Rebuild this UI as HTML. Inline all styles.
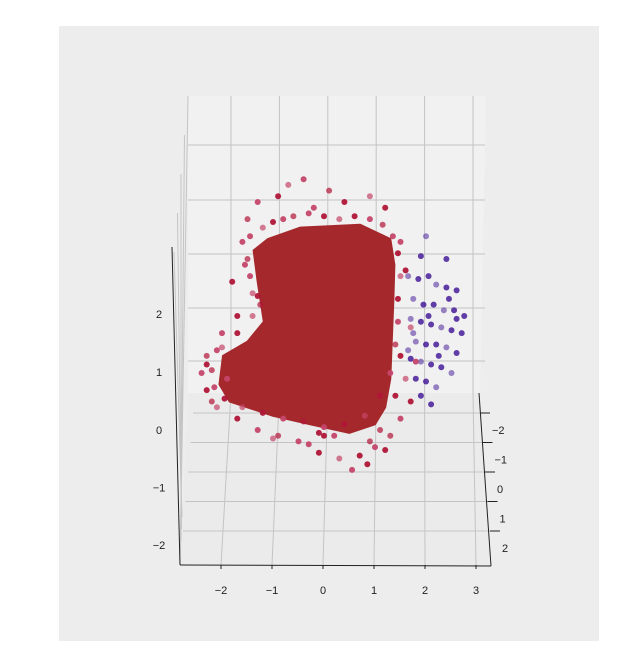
<!DOCTYPE html>
<html><head><meta charset="utf-8"><style>
body{margin:0;background:#fff;}
svg{display:block;font-family:"Liberation Sans",sans-serif;}
</style></head><body>
<svg id="chart" width="623" height="661" viewBox="0 0 623 661">
<rect x="0" y="0" width="623" height="661" fill="#fff"/>
<rect x="59" y="26" width="540" height="615" fill="#ededed"/>
<polygon points="188,96 486,96 480,393 188,393" fill="#f1f1f1"/>
<polygon points="188,393 480,393 491,566 180,565" fill="#ebebeb"/>
<g id="grid" stroke="#c4c4c4" stroke-width="1" fill="none"></g>
<g id="marks"></g>
<g id="axes" stroke="#222" stroke-width="1" fill="none">
<line x1="172" y1="247" x2="180" y2="565"/>
<line x1="180" y1="565" x2="491" y2="566"/>
<line x1="479" y1="393" x2="491" y2="566"/>
</g>
<g id="labels" font-size="11" fill="#222"></g>
</svg>
<script>
const xTicks=[-2,-1,0,1,2,3];
const zTicks=[2,1,0,-1,-2];
const yTicks=[-2,-1,0,1,2];
const coreOutlineX=[-1.1,-0.47,0.71,1.3,1.38,1.36,1.3,1.2,1.0,0.5,-0.27,-1.0,-1.85,-2.05,-1.98,-1.5,-1.18,-1.3,-1.38];
const coreOutlineZ=[3.35,3.55,3.6,3.35,2.9,2.28,0.9,0.4,0.1,-0.05,0.1,0.25,0.5,0.8,1.3,1.55,1.9,2.6,3.15];
const redX=[-0.7,-0.9,-1.3,-1.5,-1.6,-1.8,-1.4,-1.7,-2.0,-2.3,-2.4,-2.3,-2.1,-1.7,-1.3,-0.9,-0.5,-0.1,0.3,0.7,1.0,1.3,1.5,1.7,1.6,0.0,-0.3,0.9,1.5,1.2,0.9,0.4,-0.2,0.1,-0.4,1.6,1.7,1.5,-1.9,-2.2,0.55,0.85,-1.0,1.2,-1.55,-1.25,1.8,1.4,
-1.2,-1.0,-0.8,-0.6,-0.3,0.0,0.3,0.6,0.9,1.15,1.35,1.45,1.5,1.45,1.45,1.4,1.3,1.1,0.8,0.4,0.0,-0.4,-0.8,-1.2,-1.6,-1.95,-2.15,-2.2,-2.1,-1.7,-1.4,-1.3,-1.45,-1.5,-1.45,-2.3,-2.0,-0.1,0.2,1.1];
const redZ=[4.3,4.1,4.0,3.7,3.3,2.6,2.4,2.0,1.7,1.3,1.0,0.7,0.4,0.2,0.0,-0.1,-0.2,-0.4,-0.5,-0.45,-0.3,-0.1,0.2,0.5,0.9,-0.1,-0.25,-0.2,3.3,3.9,4.1,4.0,3.9,4.2,4.4,2.8,1.8,1.3,0.9,0.5,-0.7,-0.6,-0.15,-0.35,2.9,2.2,1.2,0.6,
3.55,3.65,3.7,3.75,3.8,3.75,3.7,3.75,3.7,3.6,3.4,3.1,2.7,2.3,1.9,1.5,1.0,0.6,0.25,0.1,0.05,0.15,0.2,0.3,0.4,0.55,0.75,1.05,1.4,1.7,2.0,2.35,2.7,3.0,3.4,1.15,1.45,-0.05,-0.1,0.0];
const blueX=[2.0,1.9,2.4,1.65,1.85,2.05,2.2,2.4,2.6,1.75,1.95,2.15,2.35,2.55,2.75,1.7,1.9,2.1,2.3,2.5,2.7,1.8,2.0,2.2,2.4,2.6,1.7,1.9,2.1,2.3,2.5,1.8,2.0,2.2,1.9,2.1,1.75,2.45,2.05,1.65,2.25,2.6];
const blueZ=[3.4,3.05,3.0,2.7,2.65,2.7,2.55,2.5,2.45,2.3,2.2,2.2,2.1,2.1,2.0,1.95,1.9,1.85,1.8,1.75,1.7,1.55,1.5,1.5,1.45,1.35,1.25,1.2,1.15,1.1,1.0,0.9,0.85,0.75,0.6,0.45,1.7,2.3,2.0,1.4,1.3,1.95];
const NS='http://www.w3.org/2000/svg';
function sx(x){return 324+51*x;}
function sz(z){return 430-57*z;}
function mk(tag,parent,attrs){const e=document.createElementNS(NS,tag);for(const k in attrs)e.setAttribute(k,attrs[k]);parent.appendChild(e);return e;}
const grid=document.getElementById('grid'),marks=document.getElementById('marks'),labels=document.getElementById('labels'),axes=document.getElementById('axes');
[145,200,254,308,361].forEach(y=>{const l=mk('line',grid,{x1:188,y1:y,x2:485,y2:y});

});
xTicks.forEach(t=>{const top=231+48.4*(t+2);const bot=sx(t);
const l=mk('line',grid,{x1:top,y1:96,x2:top,y2:393});


const f=mk('line',grid,{x1:top,y1:393,x2:bot-1,y2:565});


const tk=mk('line',axes,{x1:bot-1,y1:565,x2:bot-1,y2:569});


const tx=mk('text',labels,{x:bot-1,y:594,'text-anchor':'middle'});tx.textContent=(t<0?'\u2212':'')+Math.abs(t);

});
yTicks.forEach((t,i)=>{const y=413+29.5*i;const xl=193-2.5*i,xr=481+2.5*i;
const l=mk('line',grid,{x1:xl,y1:y,x2:xr,y2:y});


const tk=mk('line',axes,{x1:xr-1,y1:y,x2:xr+9,y2:y});


const tx=mk('text',labels,{x:xr+11,y:y+21,'text-anchor':'start'});tx.textContent=(t<0?'\u2212':'')+Math.abs(t);

});
[0,1,2,3,4].forEach(i=>{const l=mk('line',grid,{x1:188-3.5*i,y1:96+39*i,x2:180+0.5*i,y2:565-12*i});

});
zTicks.forEach(t=>{const y=sz(t)-(t>0?t*1:0)-(t<0?t*0.5:0);
const tx=mk('text',labels,{x:159,y:y+4,'text-anchor':'middle'});tx.textContent=(t<0?'\u2212':'')+Math.abs(t);

});
const pts=coreOutlineX.map((x,i)=>sx(x)+','+sz(coreOutlineZ[i])).join(' ');
const core=mk('polygon',marks,{points:pts,fill:'#a5282c',stroke:'#a5282c','stroke-width':2,'stroke-linejoin':'round'});


blueX.forEach((x,i)=>{const c=mk('circle',marks,{cx:sx(x),cy:sz(blueZ[i]),r:3,fill:'#3c0f94','fill-opacity':(i%3===0?0.5:0.8)});

});
redX.forEach((x,i)=>{const c=mk('circle',marks,{cx:sx(x),cy:sz(redZ[i]),r:3,fill:(i%2?'#b01638':'#c4466a'),'fill-opacity':(i%3===0?0.7:0.95)});

});
</script>
</body></html>
